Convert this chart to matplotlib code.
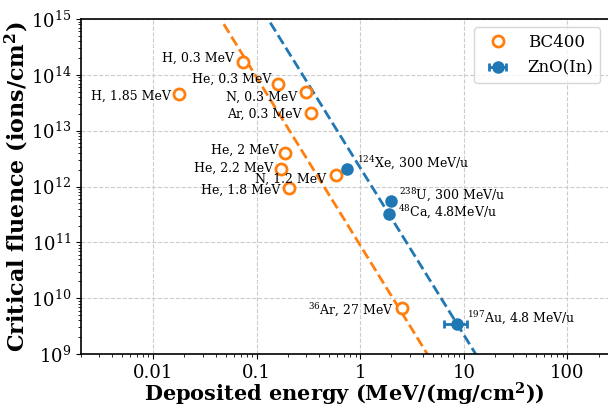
import matplotlib
matplotlib.use('Agg')
import matplotlib.pyplot as plt

plt.rcParams['font.family'] = 'DejaVu Serif'
plt.rcParams['mathtext.fontset'] = 'dejavuserif'

# BC400 scintillator points
bc_energy = [0.073, 0.16, 0.30, 0.333, 0.0177, 0.187, 0.172, 0.587, 0.203, 2.5]
bc_fluence = [1.72e14, 6.85e13, 4.86e13, 2.1e13, 4.48e13, 3.93e12, 2.06e12, 1.63e12, 9.3e11, 6.6e9]
bc_labels = ['H, 0.3 MeV', 'He, 0.3 MeV', 'N, 0.3 MeV', 'Ar, 0.3 MeV', 'H, 1.85 MeV',
             'He, 2 MeV', 'He, 2.2 MeV', 'N, 1.2 MeV', 'He, 1.8 MeV', '$^{36}$Ar, 27 MeV']
bc_offsets = [(-9, 3), (-7, 5), (-9, -5), (-9, -2), (-8, -2),
              (-7, 3), (-8, 1), (-10, -5), (-8, -2), (-8, -2)]

# ZnO(In) points
zno_energy = [0.743, 1.97, 1.91, 8.6]
zno_fluence = [2.03e12, 5.5e11, 3.2e11, 3.4e9]
zno_xerr = [0, 0, 0, 2.1]
zno_labels = ['$^{124}$Xe, 300 MeV/u', '$^{238}$U, 300 MeV/u',
              '$^{48}$Ca, 4.8MeV/u', '$^{197}$Au, 4.8 MeV/u']
zno_offsets = [(10, 6), (8, 6), (9, 2), (10, 6)]

# dashed guide lines (end points)
bc_line_e = [0.048, 4.43]
bc_line_f = [8.1e14, 1e9]
zno_line_e = [0.135, 13.0]
zno_line_f = [8.6e14, 1e9]

orange = '#ff7f0e'
blue = '#1f77b4'

fig = plt.figure(figsize=(6.08, 4.05), dpi=100)
ax = fig.add_axes([0.133, 0.126, 0.868, 0.827])

ax.plot(bc_line_e, bc_line_f, '--', color=orange, lw=2)
ax.plot(zno_line_e, zno_line_f, '--', color=blue, lw=2)

ax.plot(bc_energy, bc_fluence, 'o', mfc='white', mec=orange, mew=2, ms=8,
        ls='none', label='BC400', zorder=3)
ax.errorbar(zno_energy, zno_fluence, xerr=zno_xerr, fmt='o', color=blue, ms=8,
            capsize=3, elinewidth=2, capthick=2, label='ZnO(In)', zorder=4)

for e, f, t, off in zip(bc_energy, bc_fluence, bc_labels, bc_offsets):
    ax.annotate(t, (e, f), xytext=off, textcoords='offset pixels',
                ha='right', va='center', fontsize=9)
for e, f, t, off in zip(zno_energy, zno_fluence, zno_labels, zno_offsets):
    ax.annotate(t, (e, f), xytext=off, textcoords='offset pixels',
                ha='left', va='center', fontsize=9)

ax.set_xscale('log')
ax.set_yscale('log')
ax.set_xlim(0.002, 250)
ax.set_ylim(1e9, 1e15)
ax.set_xticks([0.01, 0.1, 1, 10, 100])
ax.set_xticklabels(['0.01', '0.1', '1', '10', '100'])
ax.tick_params(labelsize=13)
ax.grid(True, which='major', ls='--', color='#cccccc', lw=0.8)
for s in ax.spines.values():
    s.set_linewidth(1.2)

ax.set_xlabel('Deposited energy (MeV/(mg/cm$^\\mathbf{2}$))', fontsize=15, fontweight='bold')
ax.set_ylabel('Critical fluence (ions/cm$^\\mathbf{2}$)', fontsize=16, fontweight='bold')
ax.xaxis.set_label_coords(0.5, -0.08)
ax.yaxis.set_label_coords(-0.095, 0.5)

ax.legend(loc='upper right', fontsize=12)

fig.savefig('out.png', dpi=100)
